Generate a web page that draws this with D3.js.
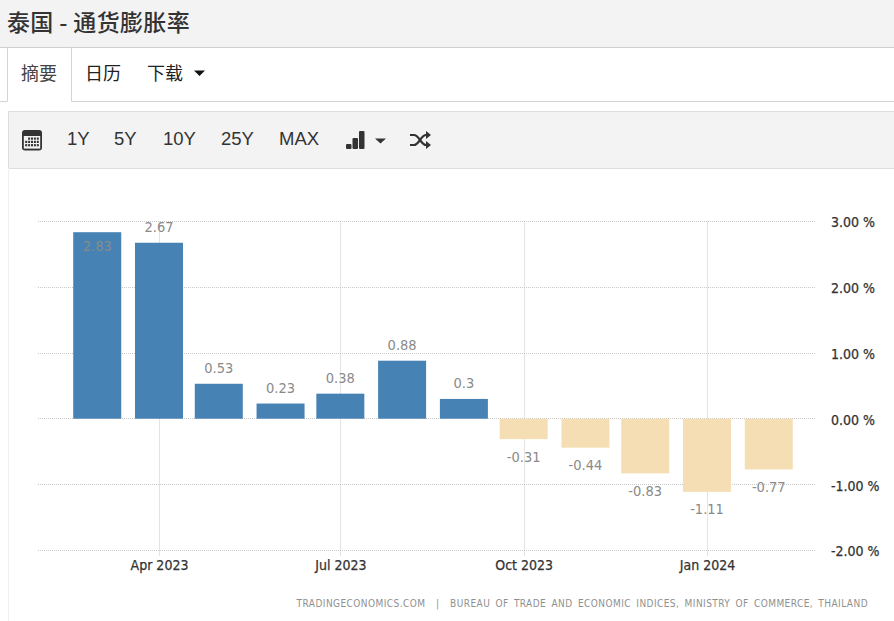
<!DOCTYPE html>
<html lang="zh">
<head>
<meta charset="utf-8">
<title>泰国 - 通货膨胀率</title>
<script src="https://cdn.jsdelivr.net/npm/d3@7/dist/d3.min.js"></script>
<style>
  html, body { margin: 0; padding: 0; background: #fff; overflow: hidden; }
  svg { display: block; }
  .ui { font-family: "Liberation Sans", Arial, sans-serif; }
  .cjk { font-family: "Noto Sans CJK SC", sans-serif; }
  .chart { font-family: "DejaVu Sans Condensed", "DejaVu Sans", sans-serif; font-stretch: condensed; }
</style>
</head>
<body>
<svg id="page" width="894" height="621"></svg>
<script>
// Monthly readings, year-on-year change in percent
const months = ["2023-03","2023-04","2023-05","2023-06","2023-07","2023-08","2023-09","2023-10","2023-11","2023-12","2024-01","2024-02"];
const values = [2.83, 2.67, 0.53, 0.23, 0.38, 0.88, 0.3, -0.31, -0.44, -0.83, -1.11, -0.77];
const valueTicks = [3, 2, 1, 0, -1, -2];
const dateTicks = ["2023-04","2023-07","2023-10","2024-01"];
const rangeButtons = ["1Y","5Y","10Y","25Y","MAX"];
const tabs = ["摘要","日历","下载"];
const pageTitle = "泰国 - 通货膨胀率";
const sourceNote = "TRADINGECONOMICS.COM  |  BUREAU OF TRADE AND ECONOMIC INDICES, MINISTRY OF COMMERCE, THAILAND";

const parseMonth = d3.utcParse("%Y-%m");
const svg = d3.select("#page");

/* ---------- page header ---------- */
const chrome = svg.append("g");
chrome.append("rect").attr("width", 894).attr("height", 47).attr("fill", "#f3f3f3");
chrome.append("line").attr("x1", 0).attr("x2", 894).attr("y1", 47.5).attr("y2", 47.5).attr("stroke", "#d0d0d0");
chrome.append("text").attr("class", "cjk").attr("x", 7).attr("y", 30.5)
  .attr("font-size", 23).attr("font-weight", 500).attr("letter-spacing", 0.35).attr("fill", "#333").text(pageTitle);

/* ---------- tab row ---------- */
chrome.append("path").attr("fill", "none").attr("stroke", "#d4d4d4")
  .attr("d", "M0,101.5H7.5V47.5M71.5,47.5V101.5H894");
const tabX = [21, 85, 147];
tabs.forEach((t, i) => {
  chrome.append("text").attr("class", "cjk").attr("x", tabX[i]).attr("y", 80)
    .attr("font-size", 18).attr("fill", i === 0 ? "#444" : "#222").text(t);
});
chrome.append("path").attr("d", "M194,70.5h11l-5.5,5.5z").attr("fill", "#111");

/* ---------- range toolbar ---------- */
chrome.append("rect").attr("x", 8.5).attr("y", 111.5).attr("width", 890).attr("height", 57)
  .attr("fill", "#f3f3f3").attr("stroke", "#ddd");
chrome.append("line").attr("x1", 8.5).attr("x2", 8.5).attr("y1", 168).attr("y2", 621).attr("stroke", "#f0f0f0");

const buttonX = [67, 114, 163, 221, 279];
rangeButtons.forEach((t, i) => {
  chrome.append("text").attr("class", "ui").attr("x", buttonX[i]).attr("y", 145)
    .attr("font-size", 18.5).attr("fill", "#333").text(t);
});

// calendar icon
const cal = chrome.append("g").attr("transform", "translate(22,130)");
cal.append("rect").attr("width", 20).attr("height", 20.5).attr("rx", 3).attr("fill", "#333");
cal.append("rect").attr("x", 1.8).attr("y", 6).attr("width", 16.4).attr("height", 12.6).attr("fill", "#f3f3f3");
d3.range(3).forEach(r => d3.range(5).forEach(c => {
  if (r === 0 && c < 1) return;
  cal.append("rect").attr("x", 3.2 + c * 2.9).attr("y", 7.5 + r * 3.3).attr("width", 2).attr("height", 2.2).attr("fill", "#333");
}));

// chart-type icon: three rising bars and a caret
const typeIcon = chrome.append("g").attr("transform", "translate(346,131)").attr("fill", "#333");
[[0, 13, 5], [6.5, 7, 11], [13, 0, 18]].forEach(([x, y, h]) => {
  typeIcon.append("rect").attr("x", x).attr("y", y).attr("width", 5.5).attr("height", h).attr("rx", 1);
});
chrome.append("path").attr("d", "M375,138.5h11l-5.5,5z").attr("fill", "#333");

// shuffle icon
const shuffle = chrome.append("g").attr("transform", "translate(410,131)");
shuffle.append("path").attr("fill", "none").attr("stroke", "#333").attr("stroke-width", 2.2)
  .attr("d", "M0,4H4C9,4 11,14 16,14H18M0,14H4C9,14 11,4 16,4H18");
shuffle.append("path").attr("fill", "#333").attr("d", "M16,0L21,4L16,8ZM16,10L21,14L16,18Z");

/* ---------- chart ---------- */
const x = d3.scaleUtc()
  .domain([parseMonth("2023-04"), parseMonth("2024-01")])
  .range([159, 707]);
const y = d3.scaleLinear().domain([3, -2]).range([221, 550.5]);
const gridY = d => Math.floor(y(d) + 0.2) + 0.5;
const barWidth = 48;
const plotLeft = 38, plotRight = 815;

const plot = svg.append("g").attr("class", "chart");

// dotted grid, drawn beneath the bars
plot.append("g").selectAll("line").data(valueTicks).join("line")
  .attr("x1", plotLeft).attr("x2", plotRight)
  .attr("y1", gridY).attr("y2", gridY)
  .attr("stroke", "#c8c8c8").attr("stroke-dasharray", "1 1");
plot.append("g").selectAll("line").data(dateTicks).join("line")
  .attr("x1", d => Math.round(x(parseMonth(d))) + 0.5).attr("x2", d => Math.round(x(parseMonth(d))) + 0.5)
  .attr("y1", 221.5).attr("y2", 556)
  .attr("stroke", "#c8c8c8").attr("stroke-dasharray", "1 1");

const series = months.map((m, i) => ({ date: parseMonth(m), value: values[i] }));

plot.append("g").selectAll("rect").data(series).join("rect")
  .attr("x", d => x(d.date) - barWidth / 2)
  .attr("width", barWidth)
  .attr("y", d => Math.min(y(d.value), y(0)))
  .attr("height", d => Math.abs(y(d.value) - y(0)))
  .attr("fill", d => d.value >= 0 ? "#4682b4" : "#f5deb3");

// value labels sit outside the bar end, or just inside it when they would leave the plot
plot.append("g").selectAll("text").data(series).join("text")
  .attr("x", d => x(d.date))
  .attr("y", d => {
    const end = y(d.value);
    if (d.value < 0) return end + 17.5;
    return end - 16 < y(3) ? end + 14 : end - 16;
  })
  .attr("dy", "0.35em")
  .attr("text-anchor", "middle")
  .attr("font-size", 14.5)
  .attr("fill", "#8a8a8a")
  .text(d => String(d.value));

// a hairline outline firms up the axis labels
const axisText = g => g.selectAll("text").attr("font-size", 14).attr("fill", "#333")
  .attr("stroke", "#333").attr("stroke-width", 0.25)
  .attr("font-family", "'DejaVu Sans Condensed', 'DejaVu Sans', sans-serif");

// right-hand value axis
const yAxis = d3.axisRight(y).tickValues(valueTicks).tickSize(0).tickPadding(0)
  .tickFormat(d => (d < 0 ? "-" : "") + d3.format(".2f")(Math.abs(d)) + " %");
plot.append("g").attr("transform", "translate(831,1)").call(yAxis)
  .call(g => g.select(".domain").remove())
  .call(axisText);

// time axis
const xAxis = d3.axisBottom(x).tickValues(dateTicks.map(parseMonth)).tickSize(0).tickPadding(0)
  .tickFormat(d3.utcFormat("%b %Y"));
plot.append("g").attr("transform", "translate(0,560)").call(xAxis)
  .call(g => g.select(".domain").remove())
  .call(axisText);

// source line
plot.append("text").attr("x", 868).attr("y", 607).attr("text-anchor", "end")
  .attr("font-size", 10).attr("letter-spacing", 0.44).attr("word-spacing", 2).attr("fill", "#8f8f8f")
  .style("white-space", "pre").text(sourceNote);
</script>
</body>
</html>
